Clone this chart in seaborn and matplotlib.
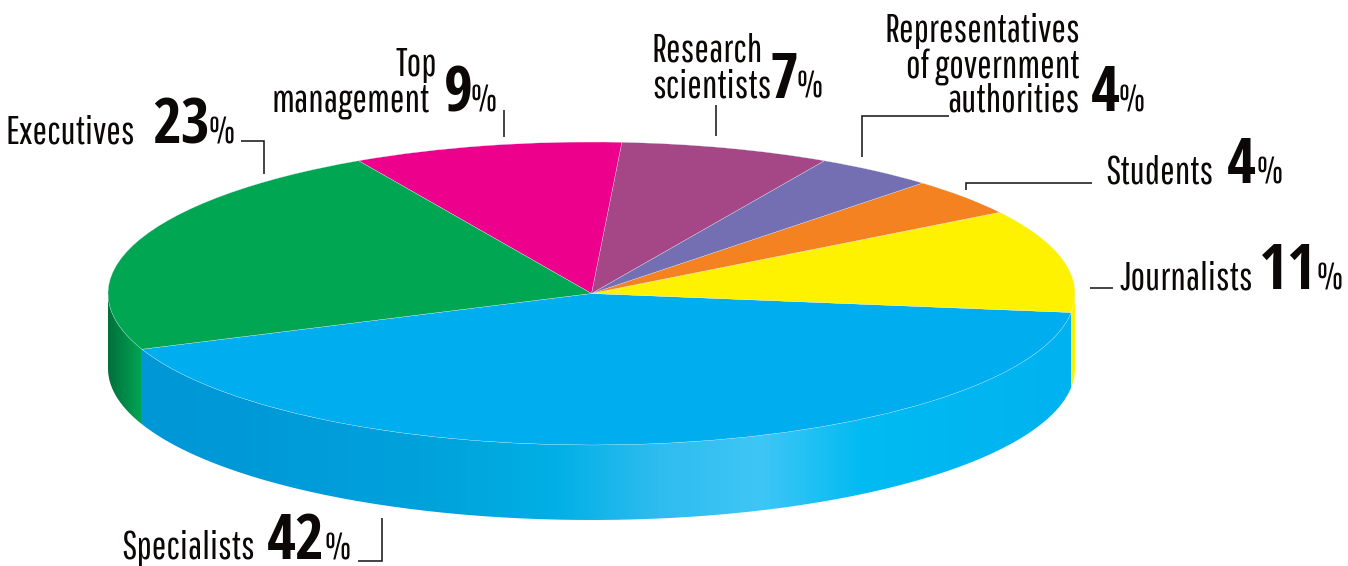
import numpy as np
import matplotlib
matplotlib.use("Agg")
import matplotlib.pyplot as plt
from matplotlib.path import Path
from matplotlib.patches import PathPatch
import seaborn as sns

# Slices, going round from the lower left
categories = ["Specialists", "Journalists", "Students", "Representatives of government authorities",
              "Research scientists", "Top management", "Executives"]
shares = [42, 11, 4, 4, 7, 9, 23]
slice_colors = ["#00aeef", "#fff200", "#f58220", "#746fb2", "#a54686", "#ec008c", "#00a651"]

# Gradient of the side wall, left to right
blue_wall = ["#0097d7", "#0099d8", "#009edb", "#00a4dc", "#00b0e6",
             "#2fbcef", "#3ec6f6", "#00bbf2", "#00b6f1", "#00b3f0"]
green_wall = ["#00703c", "#008a48", "#00a651"]

W, H = 1348, 566
CX, CY, RX, RY, DEPTH = 591.5, 293.5, 483.5, 151.5, 75
FONT = ["Pathway Gothic One", "PT Sans Narrow", "Liberation Sans", "DejaVu Sans"]
NUM_FONT = ["Open Sans Condensed", "PT Sans Narrow", "Liberation Sans", "DejaVu Sans"]
INK = "#0d0808"

# lines, number, line ends, baselines, number x, percent x
labels = [
    (["Executives"], "23", [135], [143], 152, 209),
    (["Top", "management"], "9", [437, 430], [76, 112], 444, 471),
    (["Research", "scientists"], "7", [652, 652], [62, 98], 770, 797),
    (["Representatives", "of government", "authorities"], "4", [1080, 1080, 1080], [42, 78, 111], 1091, 1119),
    (["Students"], "4", [1214], [183], 1227, 1256),
    (["Journalists"], "11", [1253], [289], 1259, 1317),
    (["Specialists"], "42", [255], [559], 267, 324),
]
leaders = [
    ([241, 264, 264], [141, 141, 174]),
    ([504, 504], [110, 137]),
    ([716, 716], [105, 136]),
    ([949, 862, 862], [116, 116, 157]),
    ([1092, 966, 966], [183, 183, 190]),
    ([1090, 1113], [288, 288]),
    ([358, 382, 382], [561, 561, 518]),
]


def wall_path(a0, a1, drop):
    ang = np.radians(np.linspace(a0, a1, 200))
    x = np.cos(ang)
    y = np.sin(ang)
    xs = np.r_[x, x[::-1], x[0]]
    ys = np.r_[y, y[::-1] - drop, y[0]]
    return Path(np.c_[xs, ys])


def draw_wall(ax, a0, a1, drop, colors):
    path = wall_path(a0, a1, drop)
    x0, x1 = path.vertices[:, 0].min(), path.vertices[:, 0].max()
    y0, y1 = path.vertices[:, 1].min(), path.vertices[:, 1].max()
    cmap = sns.blend_palette(colors, as_cmap=True)
    img = ax.imshow(np.linspace(0, 1, 512)[None, :], cmap=cmap, extent=(x0, x1, y0, y1),
                    aspect="auto", interpolation="bilinear", zorder=1)
    img.set_clip_path(PathPatch(path, transform=ax.transData))


sns.set_theme(style="white")
plt.rcParams["font.family"] = FONT

fig = plt.figure(figsize=(W / 100, H / 100), dpi=100)
ax = fig.add_axes([0, 0, 1, 1])

# Cumulative angles from the shares, pie starts at the Specialists edge
start = 180 + 21.6
edges = start + np.cumsum([0] + shares) * 3.6
drop = DEPTH / RY

draw_wall(ax, 180, edges[0], drop, green_wall)
draw_wall(ax, edges[0], edges[1], drop, blue_wall)
ax.add_patch(PathPatch(wall_path(edges[1], 360, drop), facecolor=slice_colors[1], edgecolor="none", zorder=1))

ax.pie(shares, colors=sns.color_palette(slice_colors), startangle=start, radius=1, center=(0, 0),
       wedgeprops={"edgecolor": "#dff3fb", "linewidth": 0.2, "zorder": 2})
ax.set_aspect("auto")
ax.set_xlim(-CX / RX, (W - CX) / RX)
ax.set_ylim((CY - H) / RY, CY / RY)
ax.axis("off")

# Labels and leader lines in picture pixels
over = fig.add_axes([0, 0, 1, 1], facecolor="none")
over.set_xlim(0, W)
over.set_ylim(H, 0)
over.axis("off")

for xs, ys in leaders:
    over.plot(xs, ys, color="#111111", lw=1.1, solid_joinstyle="miter", solid_capstyle="butt")

for lines, number, ends, bases, num_x, pct_x in labels:
    for line, end, base in zip(lines, ends, bases):
        ha = "left" if line in ("Research", "scientists") else "right"
        over.text(end, base, line, ha=ha, va="baseline", fontsize=28, color=INK)
    over.text(num_x, bases[-1], number, ha="left", va="baseline", fontsize=45,
              family=NUM_FONT, fontweight="bold", color=INK)
    over.text(pct_x, bases[-1], "%", ha="left", va="baseline", fontsize=27, color=INK)

fig.savefig("out.png", dpi=100, facecolor="white")
